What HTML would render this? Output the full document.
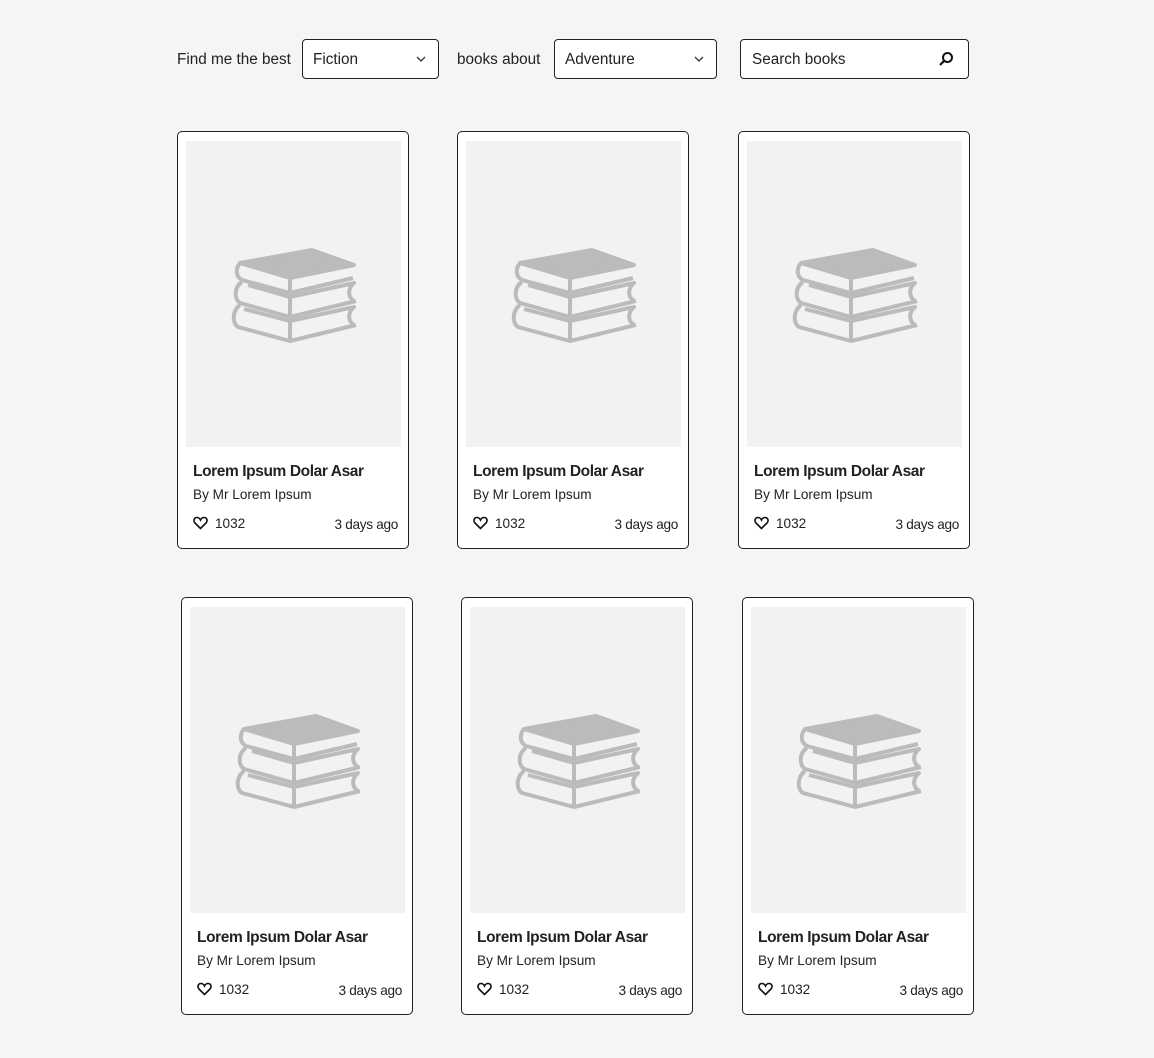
<!DOCTYPE html>
<html><head><meta charset="utf-8"><style>
*{box-sizing:border-box;margin:0;padding:0}
body{width:1154px;height:1058px;background:#f5f5f5;font-family:"Liberation Sans",sans-serif;color:#222;position:relative;overflow:hidden}
.a{position:absolute}
.lbl{font-size:15.3px;color:#222;top:51px}
.sel{position:absolute;top:39px;height:40px;border:1px solid #222;border-radius:4px;background:#fff;font-size:15.3px;padding:11px 0 0 10px}
.chev{position:absolute;right:12px;top:15px}
.card{position:absolute;width:232px;height:418px;border:1px solid #222;border-radius:5px;background:#fff}
.img{position:absolute;left:8px;top:9px;width:215px;height:306px;background:#f2f2f2}
.img svg{position:absolute;left:40px;top:104px}
.t{position:absolute;left:15px;top:331px;font-size:15.5px;font-weight:bold;letter-spacing:-0.4px;color:#222}
.au{position:absolute;left:15px;top:355px;font-size:13.6px;color:#222}
.lk{position:absolute;left:15px;top:384px;font-size:13.6px;color:#222}
.lk svg{vertical-align:-2px;margin-right:7px}
.d{position:absolute;right:10px;top:385px;font-size:13.6px;color:#222;letter-spacing:-0.3px}
</style></head><body>
<div class="a lbl" style="left:177px">Find me the best</div>
<div class="sel" style="left:302px;width:137px">Fiction<svg class="chev" width="10" height="8" viewBox="0 0 10 8"><path d="M1 2 L5 6 L9 2" fill="none" stroke="#333" stroke-width="1.3"/></svg></div>
<div class="a lbl" style="left:457px">books about</div>
<div class="sel" style="left:554px;width:163px">Adventure<svg class="chev" width="10" height="8" viewBox="0 0 10 8"><path d="M1 2 L5 6 L9 2" fill="none" stroke="#333" stroke-width="1.3"/></svg></div>
<div class="sel" style="left:740px;width:229px;padding-left:11px">Search books<svg class="a" style="right:14px;top:11px" width="16" height="16" viewBox="0 0 16 16"><circle cx="9.5" cy="6.5" r="4.5" fill="none" stroke="#111" stroke-width="2"/><path d="M6.3 9.7 L2 14" stroke="#111" stroke-width="2.2"/></svg></div>

<svg width="0" height="0" style="position:absolute"><defs><g id="bk" fill="none" stroke="#bbb" stroke-width="4" stroke-linejoin="round">
<path d="M14 18 L86 5 L128 20 L64 33 Z" fill="#bbb"/>
<path d="M14 18 C9 24 10 32 16 35 L64 48 L127 33"/><path d="M64 33 L64 48"/>
<path d="M16 37 C8 42 8 54 14 58 L64 72 L130 56 M22 40 L64 52 L128 38 C121 44 122 52 128 56 M64 52 L64 72"/>
<path d="M14 60 C6 66 6 78 12 82 L64 96 L130 80 M18 64 L64 76 L128 62 C121 68 122 76 128 80 M64 76 L64 96"/>
</g></defs></svg>

<div class="card" style="left:177px;top:131px"><div class="img"><svg width="135" height="105"><use href="#bk"/></svg></div><div class="t">Lorem Ipsum Dolar Asar</div><div class="au">By Mr Lorem Ipsum</div><div class="lk"><svg width="15" height="14" viewBox="0 0 15 14"><path d="M7.5 12.5 L2 7 C0 5 1 1.5 4 1.5 C6 1.5 7 3 7.5 4 C8 3 9 1.5 11 1.5 C14 1.5 15 5 13 7 Z" fill="none" stroke="#111" stroke-width="1.6"/></svg>1032</div><div class="d">3 days ago</div></div>
<div class="card" style="left:457px;top:131px"><div class="img"><svg width="135" height="105"><use href="#bk"/></svg></div><div class="t">Lorem Ipsum Dolar Asar</div><div class="au">By Mr Lorem Ipsum</div><div class="lk"><svg width="15" height="14" viewBox="0 0 15 14"><path d="M7.5 12.5 L2 7 C0 5 1 1.5 4 1.5 C6 1.5 7 3 7.5 4 C8 3 9 1.5 11 1.5 C14 1.5 15 5 13 7 Z" fill="none" stroke="#111" stroke-width="1.6"/></svg>1032</div><div class="d">3 days ago</div></div>
<div class="card" style="left:738px;top:131px"><div class="img"><svg width="135" height="105"><use href="#bk"/></svg></div><div class="t">Lorem Ipsum Dolar Asar</div><div class="au">By Mr Lorem Ipsum</div><div class="lk"><svg width="15" height="14" viewBox="0 0 15 14"><path d="M7.5 12.5 L2 7 C0 5 1 1.5 4 1.5 C6 1.5 7 3 7.5 4 C8 3 9 1.5 11 1.5 C14 1.5 15 5 13 7 Z" fill="none" stroke="#111" stroke-width="1.6"/></svg>1032</div><div class="d">3 days ago</div></div>
<div class="card" style="left:181px;top:597px"><div class="img"><svg width="135" height="105"><use href="#bk"/></svg></div><div class="t">Lorem Ipsum Dolar Asar</div><div class="au">By Mr Lorem Ipsum</div><div class="lk"><svg width="15" height="14" viewBox="0 0 15 14"><path d="M7.5 12.5 L2 7 C0 5 1 1.5 4 1.5 C6 1.5 7 3 7.5 4 C8 3 9 1.5 11 1.5 C14 1.5 15 5 13 7 Z" fill="none" stroke="#111" stroke-width="1.6"/></svg>1032</div><div class="d">3 days ago</div></div>
<div class="card" style="left:461px;top:597px"><div class="img"><svg width="135" height="105"><use href="#bk"/></svg></div><div class="t">Lorem Ipsum Dolar Asar</div><div class="au">By Mr Lorem Ipsum</div><div class="lk"><svg width="15" height="14" viewBox="0 0 15 14"><path d="M7.5 12.5 L2 7 C0 5 1 1.5 4 1.5 C6 1.5 7 3 7.5 4 C8 3 9 1.5 11 1.5 C14 1.5 15 5 13 7 Z" fill="none" stroke="#111" stroke-width="1.6"/></svg>1032</div><div class="d">3 days ago</div></div>
<div class="card" style="left:742px;top:597px"><div class="img"><svg width="135" height="105"><use href="#bk"/></svg></div><div class="t">Lorem Ipsum Dolar Asar</div><div class="au">By Mr Lorem Ipsum</div><div class="lk"><svg width="15" height="14" viewBox="0 0 15 14"><path d="M7.5 12.5 L2 7 C0 5 1 1.5 4 1.5 C6 1.5 7 3 7.5 4 C8 3 9 1.5 11 1.5 C14 1.5 15 5 13 7 Z" fill="none" stroke="#111" stroke-width="1.6"/></svg>1032</div><div class="d">3 days ago</div></div>
</body></html>
